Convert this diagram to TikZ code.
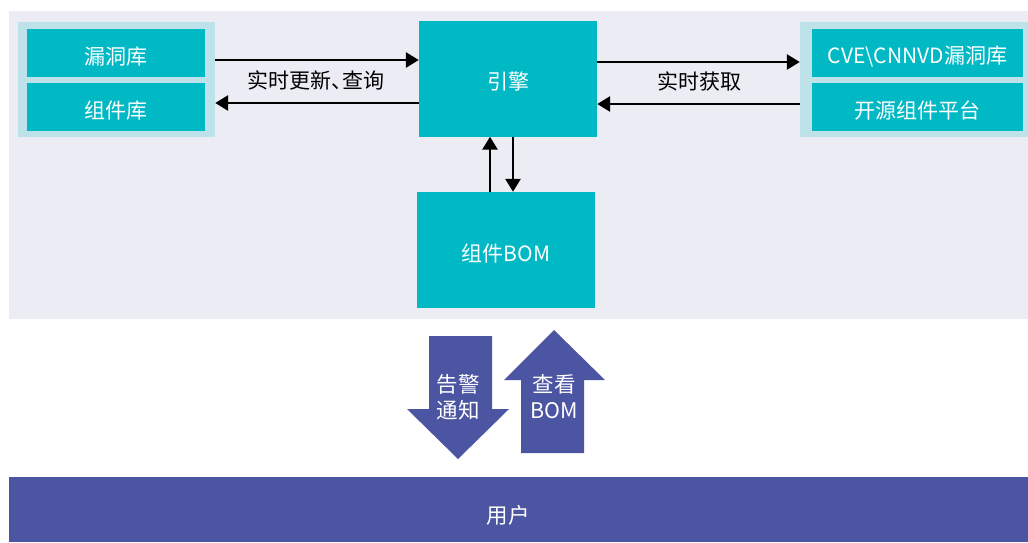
\documentclass[tikz,border=0pt]{standalone}
\usepackage{fontspec}
\setmainfont{Noto Sans CJK SC}
\usetikzlibrary{arrows.meta}
\definecolor{panel}{HTML}{ECECF4}
\definecolor{teal}{HTML}{00B9C5}
\definecolor{lteal}{HTML}{BEE2E9}
\definecolor{indigo}{HTML}{4B55A2}
\tikzset{
  tbox/.style={fill=teal, text=white, inner sep=0pt, font=\fontsize{21}{24}\selectfont, text height=22pt, text depth=0pt},
  gbox/.style={fill=lteal, inner sep=0pt},
  lbl/.style={font=\fontsize{21}{24}\selectfont, text=black, inner sep=0pt},
  conn/.style={line width=2.8pt, -{Triangle[length=13pt,width=15pt]}},
  bigarrow/.style={fill=indigo},
  atext/.style={text=white, font=\fontsize{21.5}{24}\selectfont, inner sep=0pt, align=center},
}
\begin{document}
\begin{tikzpicture}[x=1pt,y=-1pt]
\useasboundingbox (0,0) rectangle (1028,542);
\fill[panel] (9,11) rectangle (1028,319);
% left group
\node[gbox, minimum width=197pt, minimum height=115pt] (lg) at (116.5,79) {};
\node[tbox, minimum width=178pt, minimum height=48pt] (vul) at (116,53) {漏洞库};
\node[tbox, minimum width=178pt, minimum height=48pt] (comp) at (116,107) {组件库};
% right group
\node[gbox, minimum width=228pt, minimum height=115pt] (rg) at (914,79.5) {};
\node[tbox, minimum width=211pt, minimum height=48pt] (cve) at (917.5,52.5) {CVE\textbackslash CNNVD漏洞库};
\node[tbox, minimum width=211pt, minimum height=48pt] (oss) at (917.5,107) {开源组件平台};
% engine
\node[tbox, minimum width=178pt, minimum height=116pt] (eng) at (508,78.5) {引擎};
% BOM
\node[tbox, minimum width=178pt, minimum height=116pt] (bom) at (506,250) {组件BOM};
% connectors
\draw[conn] (lg.east |- 0,60) -- (eng.west |- 0,60);
\draw[conn] (eng.west |- 0,103) -- (lg.east |- 0,103);
\node[lbl] (l1) at (316,80) {实时更新\makebox[0.5em][l]{、}查询};
\draw[conn] (eng.east |- 0,62) -- (rg.west |- 0,62);
\draw[conn] (rg.west |- 0,104) -- (eng.east |- 0,104);
\node[lbl] (l2) at (699,81) {实时获取};
\draw[conn] (bom.north -| 490,0) -- (eng.south -| 490,0);
\draw[conn] (eng.south -| 513,0) -- (bom.north -| 513,0);
% big arrows
\fill[bigarrow] (429,336) -- (492,336) -- (492,409) -- (509,409) -- (458,459) -- (407,409) -- (429,409) -- cycle;
\node[atext] (alert) at (458,397) {告警\\[2pt]通知};
\fill[bigarrow] (521,453) -- (584,453) -- (584,380) -- (605,380) -- (554,330) -- (504,380) -- (521,380) -- cycle;
\node[atext] (view) at (554,397) {查看\\[2pt]BOM};
% user bar
\fill[indigo] (9,477) rectangle (1028,542);
\node[atext] (user) at (508,515) {用户};
\end{tikzpicture}
\end{document}
